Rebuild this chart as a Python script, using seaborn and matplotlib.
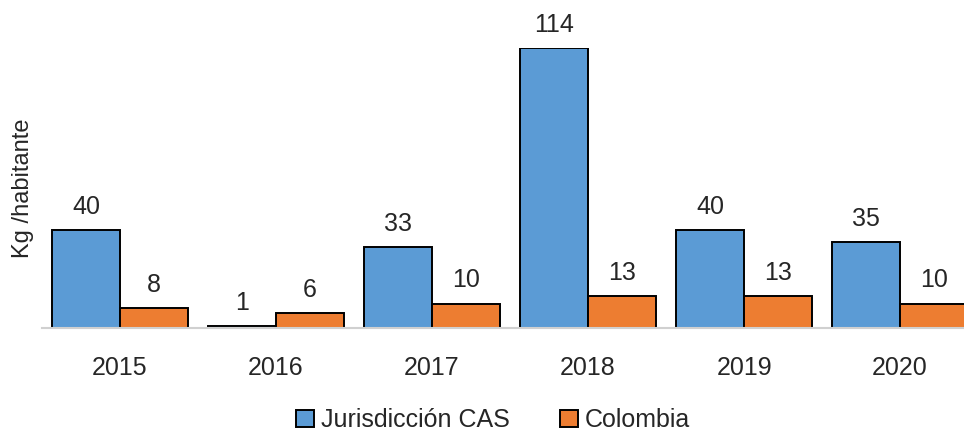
import pandas as pd
import matplotlib.pyplot as plt
import seaborn as sns

years = ['2015', '2016', '2017', '2018', '2019', '2020']
cas = [40, 1, 33, 114, 40, 35]
colombia = [8, 6, 10, 13, 13, 10]
series = ['Jurisdicción CAS', 'Colombia']

df = pd.DataFrame({
    'year': years * 2,
    'valor': cas + colombia,
    'serie': [series[0]] * len(years) + [series[1]] * len(years),
})

sns.set_style('white')
plt.rcParams['font.family'] = ['Liberation Sans', 'DejaVu Sans']

fig = plt.figure(figsize=(9.64, 4.34), dpi=100)
ax = fig.add_axes([0.0436, 0.244, 0.971, 0.645])

sns.barplot(data=df, x='year', y='valor', hue='serie', order=years, hue_order=series,
            palette=['#5B9BD5', '#ED7D31'], width=0.87, edgecolor='black', linewidth=1.4,
            saturation=1, ax=ax)

for c in ax.containers:
    ax.bar_label(c, fmt='%d', padding=8, fontsize=18, clip_on=False)

ax.set_ylim(0, 114)
ax.set_xlim(-0.5, 5.5)
ax.set_yticks([])
ax.set_xlabel('')
ax.set_ylabel('Kg /habitante', fontsize=17, labelpad=6)
ax.tick_params(axis='x', labelsize=18, length=0, pad=20)
for s in ['top', 'right', 'left']:
    ax.spines[s].set_visible(False)
ax.spines['bottom'].set_color('#d0d0d0')
ax.spines['bottom'].set_linewidth(1.5)

leg = ax.legend(loc='center', bbox_to_anchor=(0.482, -0.33), ncol=2, frameon=False,
                fontsize=18, handlelength=0.7, handleheight=0.7, handletextpad=0.3,
                columnspacing=2.0)

fig.savefig('out.png', dpi=100)
